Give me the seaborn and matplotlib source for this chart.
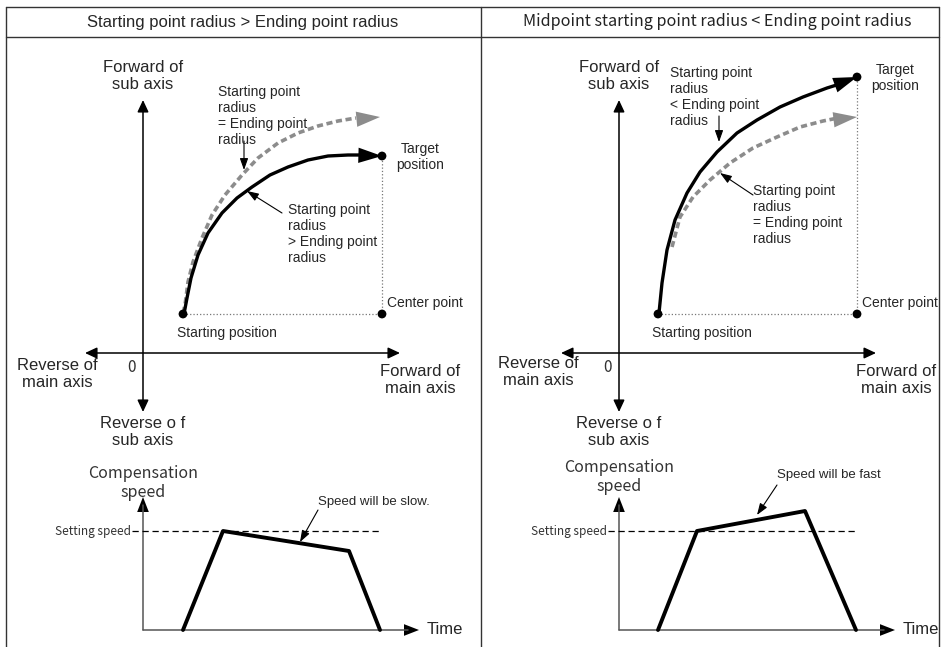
import numpy as np
import pandas as pd
import seaborn as sns
import matplotlib.pyplot as plt
from matplotlib.patches import FancyArrowPatch

# circular interpolation with changing radius - two cases side by side
sns.set_style('white')
plt.rcParams['font.family'] = ['Liberation Sans', 'DejaVu Sans']
GUL = ['Noto Sans CJK KR', 'DejaVu Sans']

W, H = 945, 647

headers = ['Starting point radius > Ending point radius',
           'Midpoint starting point radius < Ending point radius']

# arcs, in picture units (x right, y down)
arc_slow_x = [184, 187, 191, 198, 208, 222, 237, 252, 270, 288, 308, 328,
              348, 362, 382]
arc_slow_y = [314, 298, 278, 255, 233, 213, 198, 187, 175, 167, 160, 156,
              155, 155, 156]
ref_left_x = [183, 185, 188, 193, 202, 212, 225, 242, 258, 278, 298, 318,
              338, 356, 380]
ref_left_y = [313, 305, 282, 262, 238, 215, 195, 175, 158, 143, 133, 126,
              121, 118, 117]
arc_fast_x = [659, 662, 667, 675, 687, 700, 717, 737, 757, 780, 803, 827,
              843, 857]
arc_fast_y = [313, 283, 250, 220, 193, 172, 152, 133, 120, 107, 97, 88,
              83, 77]
ref_right_x = [672, 680, 693, 710, 730, 753, 777, 800, 823, 838, 857]
ref_right_y = [247, 217, 197, 180, 163, 148, 137, 127, 121, 118, 117]

# start / center / target points
pts_left = [(183, 314), (382, 314), (382, 156)]
pts_right = [(658, 314), (857, 314), (857, 77)]

# compensation speed profiles
speed_slow_t = [183, 223, 349, 380]
speed_slow_v = [630, 531, 551, 630]
speed_fast_t = [658, 697, 805, 856]
speed_fast_v = [630, 531, 511, 630]

fig = plt.figure(figsize=(9.45, 6.47), dpi=100)
ax = fig.add_axes([0, 0, 1, 1])
ax.set_xlim(0, W)
ax.set_ylim(H, 0)
ax.axis('off')

# table frame
for yy in [7, 37]:
    ax.plot([6, 939], [yy, yy], color='#333333', lw=1)
for xx in [6, 481, 939]:
    ax.plot([xx, xx], [7, H], color='#333333', lw=1)
ax.text(243, 22, headers[0], ha='center', va='center', fontsize=12)
ax.text(717, 22, headers[1], ha='center', va='center', fontsize=11.6,
        family=GUL, color='#222222')


def arrow(p0, p1, style, ms=1, lw=1.0, color='black'):
    a = FancyArrowPatch(p0, p1, arrowstyle=style, mutation_scale=ms,
                        lw=lw, color=color, shrinkA=0, shrinkB=0)
    ax.add_patch(a)


def frame(ox, comp_y):
    ax_style = '<|-|>,head_length=0.6,head_width=0.28'
    arrow((ox, 100), (ox, 412), ax_style, ms=12, lw=1.1)
    arrow((ox - 58, 353), (ox + 257, 353), ax_style, ms=12, lw=1.1)
    ax.text(ox, 76, 'Forward of\nsub axis', ha='center', va='center',
            fontsize=12, linespacing=1.1)
    ax.text(ox, 432, 'Reverse o f\nsub axis', ha='center', va='center',
            fontsize=12, linespacing=1.1)
    ax.text(ox - 11, 368, '0', ha='center', va='center', fontsize=11,
            family=GUL, color='#333333')
    ax.text(ox + 277, 380, 'Forward of\nmain axis', ha='center',
            va='center', fontsize=12, linespacing=1.1)
    # speed chart
    one = '-|>,head_length=0.9,head_width=0.35'
    ax.plot([ox, ox], [630, 505], color='#555555', lw=1.1)
    ax.plot([ox, ox + 265], [630, 630], color='#555555', lw=1.1)
    arrow((ox, 520), (ox, 497), one, ms=12, lw=0)
    arrow((ox + 250, 630), (ox + 276, 630), one, ms=12, lw=0)
    ax.plot([ox - 11, ox + 238], [531, 531], color='black', lw=0.9,
            dashes=(5, 3))
    ax.text(ox - 12, 531, 'Setting speed', ha='right', va='center',
            fontsize=8.5, family=GUL, color='#333333')
    ax.text(ox + 284, 630, 'Time', ha='left', va='center', fontsize=12)
    ax.text(ox, comp_y, 'Compensation\nspeed', ha='center', va='center',
            fontsize=11.5, family=GUL, color='#333333', linespacing=1.15)


frame(143, 483)
frame(619, 477)
ax.text(57, 374, 'Reverse of\nmain axis', ha='center', va='center',
        fontsize=12, linespacing=1.1)
ax.text(538, 372, 'Reverse of\nmain axis', ha='center', va='center',
        fontsize=12, linespacing=1.1)


def panel(pts, ax_x, ax_y, rx, ry, sx, sy):
    s, c, t = pts
    ax.plot([s[0], c[0]], [s[1], c[1]], color='#777777', lw=0.9, ls=':')
    ax.plot([c[0], t[0]], [c[1], t[1]], color='#777777', lw=0.9, ls=':')
    # reference arc (equal radius)
    sns.lineplot(x=rx[:-1], y=ry[:-1], sort=False, ax=ax,
                 color='#8c8c8c', lw=2.6)
    ax.lines[-1].set_dashes((1.7, 1.0))
    arrow((rx[-3], ry[-3]), (rx[-1], ry[-1]),
          '-|>,head_length=17,head_width=5.5', lw=0, color='#8c8c8c')
    # actual arc
    sns.lineplot(x=ax_x[:-1], y=ax_y[:-1], sort=False, ax=ax,
                 color='black', lw=2.4)
    arrow((ax_x[-3], ax_y[-3]), (ax_x[-1], ax_y[-1]),
          '-|>,head_length=17,head_width=5.5', lw=0, color='black')
    pdf = pd.DataFrame(pts, columns=['x', 'y'])
    sns.scatterplot(data=pdf, x='x', y='y', color='black', s=40,
                    edgecolor='none', ax=ax, zorder=5)
    # speed profile
    sns.lineplot(x=sx, y=sy, sort=False, ax=ax, color='black', lw=2.8)
    ax.text(s[0] + 44, 333, 'Starting position', ha='center', va='center',
            fontsize=10)
    ax.text(c[0] + 5, 303, 'Center point', ha='left', va='center',
            fontsize=10)
    ax.text(t[0] + 38, t[1] + 1, 'Target\nposition', ha='center',
            va='center', fontsize=10, linespacing=1.2)


panel(pts_left, arc_slow_x, arc_slow_y, ref_left_x, ref_left_y,
      speed_slow_t, speed_slow_v)
panel(pts_right, arc_fast_x, arc_fast_y, ref_right_x, ref_right_y,
      speed_fast_t, speed_fast_v)

thin = '-|>,head_length=0.7,head_width=0.25'
# left notes
ax.text(218, 116, 'Starting point\nradius\n= Ending point\nradius',
        ha='left', va='center', fontsize=10, linespacing=1.2)
arrow((244, 141), (244, 170), thin, ms=10, lw=0.8)
ax.text(288, 234, 'Starting point\nradius\n> Ending point\nradius',
        ha='left', va='center', fontsize=10, linespacing=1.2)
arrow((282, 213), (247, 191), thin, ms=10, lw=0.8)
ax.text(318, 502, 'Speed will be slow.', ha='left', va='center',
        fontsize=9.5)
arrow((318, 510), (300, 542), thin, ms=10, lw=0.8)
# right notes
ax.text(670, 97, 'Starting point\nradius\n< Ending point\nradius',
        ha='left', va='center', fontsize=10, linespacing=1.2)
arrow((719, 116), (719, 142), thin, ms=10, lw=0.8)
ax.text(753, 215, 'Starting point\nradius\n= Ending point\nradius',
        ha='left', va='center', fontsize=10, linespacing=1.2)
arrow((753, 195), (720, 173), thin, ms=10, lw=0.8)
ax.text(777, 475, 'Speed will be fast', ha='left', va='center',
        fontsize=9.5)
arrow((777, 485), (757, 515), thin, ms=10, lw=0.8)

fig.savefig('out.png', dpi=100)
